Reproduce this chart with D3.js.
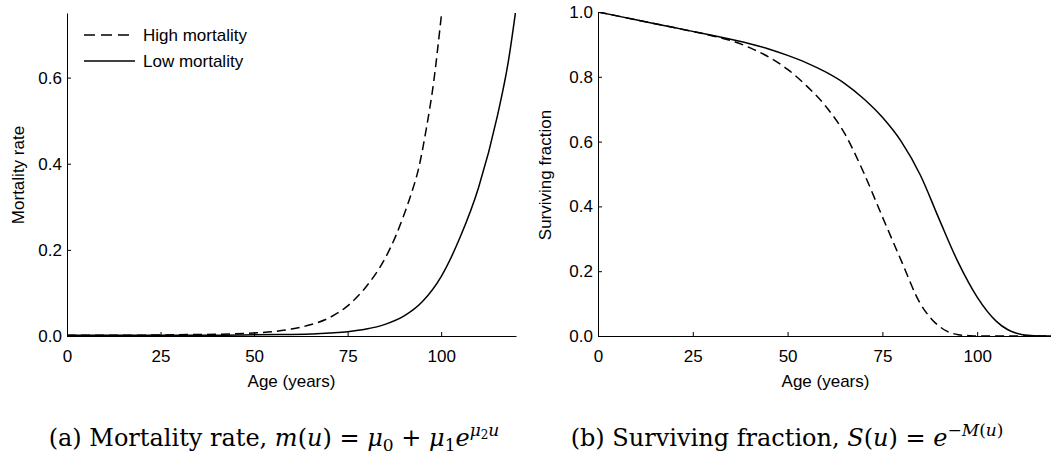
<!DOCTYPE html>
<html>
<head>
<meta charset="utf-8">
<script src="https://cdn.jsdelivr.net/npm/d3@7"></script>
<style>
  body { margin: 0; background: #fff; }
  svg { display: block; }
  .axis text { font-family: "Liberation Sans", Arial, sans-serif; font-size: 17px; fill: #000; }
  .axis path, .axis line { stroke: #000; stroke-width: 1; }
  .lbl { font-family: "Liberation Sans", Arial, sans-serif; font-size: 17px; fill: #000; }
  .cap { font-family: "DejaVu Serif", serif; font-size: 24px; fill: #000; }
</style>
</head>
<body>
<script>
const w = 1051;
const h = 455;

// Mortality rate panel (a)
const mortAgesHigh = [0, 10, 20, 30, 40, 45, 50, 55, 60, 65, 70, 75, 80, 85, 88, 90, 92, 94, 96, 98, 100, 101];
const mortHigh = [0.002, 0.002, 0.002, 0.003, 0.004, 0.005, 0.007, 0.01, 0.016, 0.026, 0.042, 0.07, 0.115, 0.18, 0.235, 0.28, 0.33, 0.39, 0.48, 0.59, 0.74, 0.82];
const mortAgesLow = [0, 10, 20, 30, 40, 50, 60, 65, 70, 75, 80, 85, 90, 95, 100, 105, 110, 115, 118, 120];
const mortLow = [0.002, 0.002, 0.002, 0.002, 0.002, 0.003, 0.0035, 0.0045, 0.007, 0.01, 0.016, 0.027, 0.046, 0.08, 0.138, 0.228, 0.345, 0.51, 0.64, 0.76];

// Surviving fraction panel (b)
const survAgesHigh = [0, 10, 20, 30, 35, 40, 45, 50, 55, 60, 65, 70, 75, 80, 85, 88, 90, 92, 95, 98, 100, 110, 120];
const survHigh = [1, 0.976, 0.952, 0.927, 0.912, 0.89, 0.861, 0.823, 0.772, 0.71, 0.626, 0.506, 0.368, 0.232, 0.1, 0.052, 0.03, 0.015, 0.004, 0.001, 0, 0, 0];
const survAgesLow = [0, 10, 20, 30, 40, 45, 50, 55, 60, 65, 70, 75, 80, 85, 90, 95, 100, 105, 108, 110, 112, 115, 120];
const survLow = [1, 0.976, 0.952, 0.928, 0.902, 0.886, 0.866, 0.843, 0.815, 0.78, 0.733, 0.675, 0.6, 0.497, 0.36, 0.227, 0.12, 0.046, 0.02, 0.01, 0.004, 0.001, 0];

const ageTicks = [0, 25, 50, 75, 100];
const mortTicks = [0, 0.2, 0.4, 0.6];
const survTicks = [0, 0.2, 0.4, 0.6, 0.8, 1.0];
const seriesNames = ["High mortality", "Low mortality"];

const svg = d3.select("body").append("svg").attr("width", w).attr("height", h);

const zip = (xs, ys) => xs.map((x, i) => [x, ys[i]]);

function panel(opts) {
	const x = d3.scaleLinear().domain([0, 120]).range(opts.xr);
	const y = d3.scaleLinear().domain(opts.yd).range([336, opts.top]);
	const g = svg.append("g");

	const clipId = "clip" + opts.id;
	g.append("clipPath").attr("id", clipId)
		.append("rect")
		.attr("x", opts.xr[0]).attr("y", opts.top)
		.attr("width", opts.xr[1] - opts.xr[0]).attr("height", 336 - opts.top);

	const line = d3.line().x((d) => x(d[0])).y((d) => y(d[1])).curve(d3.curveMonotoneX);
	const lines = g.append("g").attr("clip-path", `url(#${clipId})`);
	opts.series.forEach((s) => {
		lines.append("path")
			.datum(s.data)
			.attr("d", line)
			.attr("fill", "none")
			.attr("stroke", "#000")
			.attr("stroke-width", 1.5)
			.attr("stroke-dasharray", s.dash ? "9,5" : null);
	});

	// Axes, ticks pointing inwards
	g.append("g")
		.attr("class", "axis")
		.attr("transform", "translate(0,336)")
		.call(d3.axisBottom(x).tickValues(ageTicks).tickSizeInner(-4).tickSizeOuter(0).tickPadding(14).tickFormat(d3.format("d")));
	g.append("g")
		.attr("class", "axis")
		.attr("transform", `translate(${opts.xr[0]},0)`)
		.call(d3.axisLeft(y).tickValues(opts.yTicks).tickSizeInner(-4).tickSizeOuter(0).tickPadding(5).tickFormat(d3.format(".1f")));

	g.append("text").attr("class", "lbl")
		.attr("x", (opts.xr[0] + opts.xr[1]) / 2).attr("y", 387)
		.attr("text-anchor", "middle").text("Age (years)");
	g.append("text").attr("class", "lbl")
		.attr("transform", `translate(${opts.ylx},175) rotate(-90)`)
		.attr("text-anchor", "middle").text(opts.ylabel);
	return { x, y };
}

panel({
	id: "a", xr: [67, 516], yd: [0, 0.75], top: 13, yTicks: mortTicks,
	ylabel: "Mortality rate", ylx: 24,
	series: [
		{ data: zip(mortAgesHigh, mortHigh), dash: true },
		{ data: zip(mortAgesLow, mortLow), dash: false }
	]
});

panel({
	id: "b", xr: [598, 1053], yd: [0, 1], top: 12, yTicks: survTicks,
	ylabel: "Surviving fraction", ylx: 551,
	series: [
		{ data: zip(survAgesHigh, survHigh), dash: true },
		{ data: zip(survAgesLow, survLow), dash: false }
	]
});

// Legend
const legend = svg.append("g");
seriesNames.forEach((name, i) => {
	const ly = 35 + i * 26;
	legend.append("line")
		.attr("x1", 84).attr("x2", 135).attr("y1", ly).attr("y2", ly)
		.attr("stroke", "#000").attr("stroke-width", 1.5)
		.attr("stroke-dasharray", i === 0 ? "11,6" : null);
	legend.append("text").attr("class", "lbl")
		.attr("x", 143).attr("y", ly + 6).text(name);
});

// Captions
function caption(cx, parts) {
	const t = svg.append("text").attr("class", "cap").attr("x", cx).attr("y", 446).attr("text-anchor", "middle");
	parts.forEach((p) => {
		const s = t.append("tspan").text(p.t);
		if (p.i) s.attr("font-style", "italic");
		if (p.sz) s.attr("font-size", p.sz);
		if (p.dy) s.attr("dy", p.dy);
	});
}

caption(274, [
	{ t: "(a) Mortality rate, " },
	{ t: "m", i: true }, { t: "(" }, { t: "u", i: true }, { t: ") = " },
	{ t: "μ", i: true }, { t: "0", sz: 17, dy: 5 },
	{ t: " + ", dy: -5 },
	{ t: "μ", i: true }, { t: "1", sz: 17, dy: 5 },
	{ t: "e", i: true, dy: -5 },
	{ t: "μ", i: true, sz: 17, dy: -10 },
	{ t: "2", sz: 12, dy: 3 },
	{ t: "u", i: true, sz: 17, dy: -3 }
]);

caption(787, [
	{ t: "(b) Surviving fraction, " },
	{ t: "S", i: true }, { t: "(" }, { t: "u", i: true }, { t: ") = " },
	{ t: "e", i: true },
	{ t: "−", sz: 17, dy: -10 },
	{ t: "M", i: true, sz: 17 },
	{ t: "(", sz: 17 }, { t: "u", i: true, sz: 17 }, { t: ")", sz: 17 }
]);
</script>
</body>
</html>
